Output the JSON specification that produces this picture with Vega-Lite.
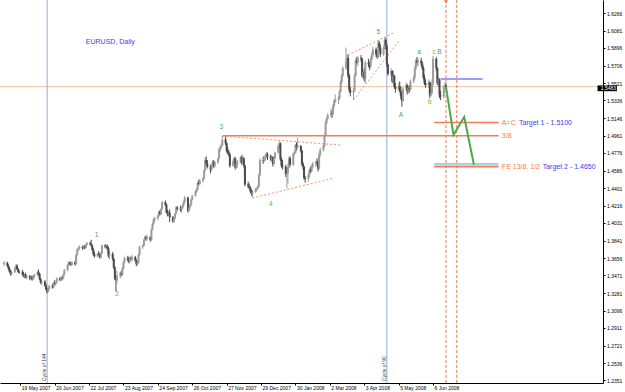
{
"$schema": "https://vega.github.io/schema/vega-lite/v6.json",
"width": 603, "height": 383,
"autosize": {"type": "none"},
"padding": {"left": 0, "top": 0, "right": 22, "bottom": 9},
"background": "white",
"config": {
"view": {"stroke": null},
"font": "Liberation Sans",
"axis": {"labelOverlap": false, "labelFlush": false, "labelBound": false, "grid": false, "title": null, "labelFontSize": 5, "labelFont": "Liberation Sans", "labelColor": "#000000", "tickSize": 2, "tickColor": "#000000", "domainColor": "#000000", "domainWidth": 1},
"axisX": {"labelOverlap": false, "labelAlign": "left", "labelBaseline": "top", "labelPadding": 0, "labelOffset": 1},
"axisY": {"labelOverlap": false, "labelPadding": 1.5}
},
"datasets": {
"candles": [
{"d":"2007-05-04","o":1.3590,"h":1.3625,"l":1.3570,"c":1.3604},
{"d":"2007-05-07","o":1.3604,"h":1.3618,"l":1.3560,"c":1.3575},
{"d":"2007-05-08","o":1.3575,"h":1.3590,"l":1.3530,"c":1.3545},
{"d":"2007-05-09","o":1.3545,"h":1.3560,"l":1.3500,"c":1.3510},
{"d":"2007-05-10","o":1.3510,"h":1.3530,"l":1.3470,"c":1.3490},
{"d":"2007-05-11","o":1.3490,"h":1.3520,"l":1.3470,"c":1.3505},
{"d":"2007-05-14","o":1.3505,"h":1.3560,"l":1.3495,"c":1.3545},
{"d":"2007-05-15","o":1.3545,"h":1.3590,"l":1.3530,"c":1.3575},
{"d":"2007-05-16","o":1.3575,"h":1.3590,"l":1.3530,"c":1.3540},
{"d":"2007-05-17","o":1.3540,"h":1.3550,"l":1.3500,"c":1.3510},
{"d":"2007-05-18","o":1.3510,"h":1.3525,"l":1.3490,"c":1.3500},
{"d":"2007-05-21","o":1.3500,"h":1.3530,"l":1.3470,"c":1.3485},
{"d":"2007-05-22","o":1.3485,"h":1.3510,"l":1.3450,"c":1.3460},
{"d":"2007-05-23","o":1.3460,"h":1.3490,"l":1.3440,"c":1.3475},
{"d":"2007-05-24","o":1.3475,"h":1.3500,"l":1.3440,"c":1.3450},
{"d":"2007-05-25","o":1.3450,"h":1.3480,"l":1.3430,"c":1.3465},
{"d":"2007-05-28","o":1.3465,"h":1.3475,"l":1.3420,"c":1.3435},
{"d":"2007-05-29","o":1.3435,"h":1.3470,"l":1.3425,"c":1.3455},
{"d":"2007-05-30","o":1.3455,"h":1.3470,"l":1.3415,"c":1.3430},
{"d":"2007-05-31","o":1.3430,"h":1.3460,"l":1.3420,"c":1.3450},
{"d":"2007-06-01","o":1.3450,"h":1.3490,"l":1.3440,"c":1.3480},
{"d":"2007-06-04","o":1.3480,"h":1.3520,"l":1.3465,"c":1.3505},
{"d":"2007-06-05","o":1.3505,"h":1.3535,"l":1.3470,"c":1.3490},
{"d":"2007-06-06","o":1.3490,"h":1.3500,"l":1.3420,"c":1.3430},
{"d":"2007-06-07","o":1.3430,"h":1.3445,"l":1.3380,"c":1.3395},
{"d":"2007-06-08","o":1.3395,"h":1.3420,"l":1.3365,"c":1.3405},
{"d":"2007-06-11","o":1.3405,"h":1.3420,"l":1.3350,"c":1.3360},
{"d":"2007-06-12","o":1.3360,"h":1.3380,"l":1.3310,"c":1.3320},
{"d":"2007-06-13","o":1.3320,"h":1.3335,"l":1.3280,"c":1.3300},
{"d":"2007-06-14","o":1.3300,"h":1.3340,"l":1.3290,"c":1.3325},
{"d":"2007-06-15","o":1.3325,"h":1.3370,"l":1.3315,"c":1.3360},
{"d":"2007-06-18","o":1.3360,"h":1.3380,"l":1.3330,"c":1.3345},
{"d":"2007-06-19","o":1.3345,"h":1.3400,"l":1.3335,"c":1.3390},
{"d":"2007-06-20","o":1.3390,"h":1.3420,"l":1.3370,"c":1.3380},
{"d":"2007-06-21","o":1.3380,"h":1.3405,"l":1.3360,"c":1.3395},
{"d":"2007-06-22","o":1.3395,"h":1.3450,"l":1.3385,"c":1.3440},
{"d":"2007-06-25","o":1.3440,"h":1.3455,"l":1.3410,"c":1.3420},
{"d":"2007-06-26","o":1.3420,"h":1.3460,"l":1.3410,"c":1.3450},
{"d":"2007-06-27","o":1.3450,"h":1.3460,"l":1.3420,"c":1.3440},
{"d":"2007-06-28","o":1.3440,"h":1.3490,"l":1.3430,"c":1.3480},
{"d":"2007-06-29","o":1.3480,"h":1.3540,"l":1.3470,"c":1.3525},
{"d":"2007-07-02","o":1.3525,"h":1.3590,"l":1.3515,"c":1.3580},
{"d":"2007-07-03","o":1.3580,"h":1.3620,"l":1.3565,"c":1.3605},
{"d":"2007-07-04","o":1.3605,"h":1.3620,"l":1.3580,"c":1.3595},
{"d":"2007-07-05","o":1.3595,"h":1.3610,"l":1.3575,"c":1.3585},
{"d":"2007-07-06","o":1.3585,"h":1.3625,"l":1.3570,"c":1.3610},
{"d":"2007-07-09","o":1.3610,"h":1.3625,"l":1.3575,"c":1.3590},
{"d":"2007-07-10","o":1.3590,"h":1.3700,"l":1.3585,"c":1.3690},
{"d":"2007-07-11","o":1.3690,"h":1.3760,"l":1.3680,"c":1.3750},
{"d":"2007-07-12","o":1.3750,"h":1.3775,"l":1.3730,"c":1.3760},
{"d":"2007-07-13","o":1.3760,"h":1.3790,"l":1.3745,"c":1.3775},
{"d":"2007-07-16","o":1.3775,"h":1.3790,"l":1.3745,"c":1.3760},
{"d":"2007-07-17","o":1.3760,"h":1.3790,"l":1.3750,"c":1.3780},
{"d":"2007-07-18","o":1.3780,"h":1.3795,"l":1.3750,"c":1.3765},
{"d":"2007-07-19","o":1.3765,"h":1.3810,"l":1.3755,"c":1.3800},
{"d":"2007-07-20","o":1.3800,"h":1.3830,"l":1.3790,"c":1.3815},
{"d":"2007-07-23","o":1.3815,"h":1.3830,"l":1.3790,"c":1.3805},
{"d":"2007-07-24","o":1.3805,"h":1.3850,"l":1.3780,"c":1.3790},
{"d":"2007-07-25","o":1.3790,"h":1.3800,"l":1.3730,"c":1.3745},
{"d":"2007-07-26","o":1.3745,"h":1.3760,"l":1.3680,"c":1.3695},
{"d":"2007-07-27","o":1.3695,"h":1.3720,"l":1.3660,"c":1.3675},
{"d":"2007-07-30","o":1.3675,"h":1.3710,"l":1.3665,"c":1.3700},
{"d":"2007-07-31","o":1.3700,"h":1.3730,"l":1.3680,"c":1.3690},
{"d":"2007-08-01","o":1.3690,"h":1.3710,"l":1.3650,"c":1.3665},
{"d":"2007-08-02","o":1.3665,"h":1.3720,"l":1.3655,"c":1.3710},
{"d":"2007-08-03","o":1.3710,"h":1.3800,"l":1.3700,"c":1.3790},
{"d":"2007-08-06","o":1.3790,"h":1.3805,"l":1.3760,"c":1.3775},
{"d":"2007-08-07","o":1.3775,"h":1.3800,"l":1.3750,"c":1.3785},
{"d":"2007-08-08","o":1.3785,"h":1.3800,"l":1.3745,"c":1.3760},
{"d":"2007-08-09","o":1.3760,"h":1.3775,"l":1.3660,"c":1.3680},
{"d":"2007-08-10","o":1.3680,"h":1.3730,"l":1.3640,"c":1.3700},
{"d":"2007-08-13","o":1.3700,"h":1.3720,"l":1.3630,"c":1.3645},
{"d":"2007-08-14","o":1.3645,"h":1.3660,"l":1.3540,"c":1.3555},
{"d":"2007-08-15","o":1.3555,"h":1.3570,"l":1.3420,"c":1.3440},
{"d":"2007-08-16","o":1.3440,"h":1.3470,"l":1.3300,"c":1.3420},
{"d":"2007-08-17","o":1.3420,"h":1.3520,"l":1.3380,"c":1.3470},
{"d":"2007-08-20","o":1.3470,"h":1.3510,"l":1.3440,"c":1.3495},
{"d":"2007-08-21","o":1.3495,"h":1.3520,"l":1.3460,"c":1.3480},
{"d":"2007-08-22","o":1.3480,"h":1.3560,"l":1.3470,"c":1.3545},
{"d":"2007-08-23","o":1.3545,"h":1.3620,"l":1.3530,"c":1.3610},
{"d":"2007-08-24","o":1.3610,"h":1.3670,"l":1.3600,"c":1.3655},
{"d":"2007-08-27","o":1.3655,"h":1.3680,"l":1.3620,"c":1.3640},
{"d":"2007-08-28","o":1.3640,"h":1.3670,"l":1.3600,"c":1.3620},
{"d":"2007-08-29","o":1.3620,"h":1.3665,"l":1.3600,"c":1.3655},
{"d":"2007-08-30","o":1.3655,"h":1.3675,"l":1.3630,"c":1.3645},
{"d":"2007-08-31","o":1.3645,"h":1.3690,"l":1.3620,"c":1.3665},
{"d":"2007-09-03","o":1.3665,"h":1.3680,"l":1.3620,"c":1.3630},
{"d":"2007-09-04","o":1.3630,"h":1.3645,"l":1.3570,"c":1.3590},
{"d":"2007-09-05","o":1.3590,"h":1.3620,"l":1.3575,"c":1.3605},
{"d":"2007-09-06","o":1.3605,"h":1.3700,"l":1.3595,"c":1.3690},
{"d":"2007-09-07","o":1.3690,"h":1.3790,"l":1.3680,"c":1.3775},
{"d":"2007-09-10","o":1.3775,"h":1.3800,"l":1.3755,"c":1.3790},
{"d":"2007-09-11","o":1.3790,"h":1.3860,"l":1.3780,"c":1.3850},
{"d":"2007-09-12","o":1.3850,"h":1.3890,"l":1.3840,"c":1.3880},
{"d":"2007-09-13","o":1.3880,"h":1.3900,"l":1.3840,"c":1.3860},
{"d":"2007-09-14","o":1.3860,"h":1.3895,"l":1.3845,"c":1.3880},
{"d":"2007-09-17","o":1.3880,"h":1.3890,"l":1.3830,"c":1.3850},
{"d":"2007-09-18","o":1.3850,"h":1.3970,"l":1.3840,"c":1.3960},
{"d":"2007-09-19","o":1.3960,"h":1.4030,"l":1.3950,"c":1.4020},
{"d":"2007-09-20","o":1.4020,"h":1.4080,"l":1.4005,"c":1.4065},
{"d":"2007-09-21","o":1.4065,"h":1.4095,"l":1.4040,"c":1.4080},
{"d":"2007-09-24","o":1.4080,"h":1.4120,"l":1.4060,"c":1.4105},
{"d":"2007-09-25","o":1.4105,"h":1.4160,"l":1.4095,"c":1.4150},
{"d":"2007-09-26","o":1.4150,"h":1.4170,"l":1.4110,"c":1.4125},
{"d":"2007-09-27","o":1.4125,"h":1.4190,"l":1.4115,"c":1.4180},
{"d":"2007-09-28","o":1.4180,"h":1.4265,"l":1.4170,"c":1.4250},
{"d":"2007-10-01","o":1.4250,"h":1.4270,"l":1.4210,"c":1.4225},
{"d":"2007-10-02","o":1.4225,"h":1.4235,"l":1.4130,"c":1.4145},
{"d":"2007-10-03","o":1.4145,"h":1.4170,"l":1.4100,"c":1.4125},
{"d":"2007-10-04","o":1.4125,"h":1.4160,"l":1.4105,"c":1.4140},
{"d":"2007-10-05","o":1.4140,"h":1.4175,"l":1.4040,"c":1.4090},
{"d":"2007-10-08","o":1.4090,"h":1.4105,"l":1.4030,"c":1.4050},
{"d":"2007-10-09","o":1.4050,"h":1.4090,"l":1.4035,"c":1.4080},
{"d":"2007-10-10","o":1.4080,"h":1.4140,"l":1.4070,"c":1.4130},
{"d":"2007-10-11","o":1.4130,"h":1.4210,"l":1.4120,"c":1.4195},
{"d":"2007-10-12","o":1.4195,"h":1.4210,"l":1.4160,"c":1.4180},
{"d":"2007-10-15","o":1.4180,"h":1.4215,"l":1.4150,"c":1.4170},
{"d":"2007-10-16","o":1.4170,"h":1.4200,"l":1.4140,"c":1.4190},
{"d":"2007-10-17","o":1.4190,"h":1.4230,"l":1.4175,"c":1.4220},
{"d":"2007-10-18","o":1.4220,"h":1.4270,"l":1.4205,"c":1.4255},
{"d":"2007-10-19","o":1.4255,"h":1.4320,"l":1.4240,"c":1.4300},
{"d":"2007-10-22","o":1.4300,"h":1.4310,"l":1.4140,"c":1.4160},
{"d":"2007-10-23","o":1.4160,"h":1.4210,"l":1.4150,"c":1.4195},
{"d":"2007-10-24","o":1.4195,"h":1.4240,"l":1.4180,"c":1.4225},
{"d":"2007-10-25","o":1.4225,"h":1.4290,"l":1.4215,"c":1.4280},
{"d":"2007-10-26","o":1.4280,"h":1.4330,"l":1.4270,"c":1.4320},
{"d":"2007-10-29","o":1.4320,"h":1.4380,"l":1.4310,"c":1.4365},
{"d":"2007-10-30","o":1.4365,"h":1.4400,"l":1.4350,"c":1.4385},
{"d":"2007-10-31","o":1.4385,"h":1.4470,"l":1.4375,"c":1.4460},
{"d":"2007-11-01","o":1.4460,"h":1.4490,"l":1.4430,"c":1.4445},
{"d":"2007-11-02","o":1.4445,"h":1.4500,"l":1.4435,"c":1.4480},
{"d":"2007-11-05","o":1.4480,"h":1.4520,"l":1.4460,"c":1.4505},
{"d":"2007-11-06","o":1.4505,"h":1.4600,"l":1.4495,"c":1.4590},
{"d":"2007-11-07","o":1.4590,"h":1.4730,"l":1.4580,"c":1.4700},
{"d":"2007-11-08","o":1.4700,"h":1.4740,"l":1.4640,"c":1.4665},
{"d":"2007-11-09","o":1.4665,"h":1.4700,"l":1.4610,"c":1.4630},
{"d":"2007-11-12","o":1.4630,"h":1.4650,"l":1.4560,"c":1.4600},
{"d":"2007-11-13","o":1.4600,"h":1.4660,"l":1.4585,"c":1.4640},
{"d":"2007-11-14","o":1.4640,"h":1.4700,"l":1.4610,"c":1.4680},
{"d":"2007-11-15","o":1.4680,"h":1.4700,"l":1.4620,"c":1.4640},
{"d":"2007-11-16","o":1.4640,"h":1.4690,"l":1.4620,"c":1.4675},
{"d":"2007-11-19","o":1.4675,"h":1.4730,"l":1.4660,"c":1.4720},
{"d":"2007-11-20","o":1.4720,"h":1.4830,"l":1.4710,"c":1.4815},
{"d":"2007-11-21","o":1.4815,"h":1.4860,"l":1.4790,"c":1.4840},
{"d":"2007-11-22","o":1.4840,"h":1.4880,"l":1.4820,"c":1.4860},
{"d":"2007-11-23","o":1.4860,"h":1.4960,"l":1.4850,"c":1.4920},
{"d":"2007-11-26","o":1.4920,"h":1.4950,"l":1.4860,"c":1.4880},
{"d":"2007-11-27","o":1.4880,"h":1.4890,"l":1.4780,"c":1.4800},
{"d":"2007-11-28","o":1.4800,"h":1.4840,"l":1.4760,"c":1.4780},
{"d":"2007-11-29","o":1.4780,"h":1.4810,"l":1.4740,"c":1.4760},
{"d":"2007-11-30","o":1.4760,"h":1.4780,"l":1.4620,"c":1.4640},
{"d":"2007-12-03","o":1.4640,"h":1.4710,"l":1.4630,"c":1.4690},
{"d":"2007-12-04","o":1.4690,"h":1.4740,"l":1.4670,"c":1.4720},
{"d":"2007-12-05","o":1.4720,"h":1.4730,"l":1.4600,"c":1.4620},
{"d":"2007-12-06","o":1.4620,"h":1.4680,"l":1.4610,"c":1.4660},
{"d":"2007-12-07","o":1.4660,"h":1.4700,"l":1.4620,"c":1.4680},
{"d":"2007-12-10","o":1.4680,"h":1.4740,"l":1.4670,"c":1.4730},
{"d":"2007-12-11","o":1.4730,"h":1.4750,"l":1.4650,"c":1.4670},
{"d":"2007-12-12","o":1.4670,"h":1.4760,"l":1.4660,"c":1.4720},
{"d":"2007-12-13","o":1.4720,"h":1.4730,"l":1.4620,"c":1.4640},
{"d":"2007-12-14","o":1.4640,"h":1.4650,"l":1.4420,"c":1.4440},
{"d":"2007-12-17","o":1.4440,"h":1.4470,"l":1.4400,"c":1.4420},
{"d":"2007-12-18","o":1.4420,"h":1.4450,"l":1.4390,"c":1.4410},
{"d":"2007-12-19","o":1.4410,"h":1.4420,"l":1.4350,"c":1.4370},
{"d":"2007-12-20","o":1.4370,"h":1.4390,"l":1.4320,"c":1.4345},
{"d":"2007-12-21","o":1.4345,"h":1.4380,"l":1.4300,"c":1.4360},
{"d":"2007-12-24","o":1.4360,"h":1.4400,"l":1.4350,"c":1.4390},
{"d":"2007-12-25","o":1.4390,"h":1.4410,"l":1.4380,"c":1.4400},
{"d":"2007-12-26","o":1.4400,"h":1.4430,"l":1.4380,"c":1.4420},
{"d":"2007-12-27","o":1.4420,"h":1.4560,"l":1.4410,"c":1.4540},
{"d":"2007-12-28","o":1.4540,"h":1.4720,"l":1.4530,"c":1.4700},
{"d":"2007-12-31","o":1.4700,"h":1.4740,"l":1.4660,"c":1.4690},
{"d":"2008-01-01","o":1.4690,"h":1.4720,"l":1.4680,"c":1.4710},
{"d":"2008-01-02","o":1.4710,"h":1.4770,"l":1.4700,"c":1.4750},
{"d":"2008-01-03","o":1.4750,"h":1.4790,"l":1.4720,"c":1.4760},
{"d":"2008-01-04","o":1.4760,"h":1.4780,"l":1.4700,"c":1.4740},
{"d":"2008-01-07","o":1.4740,"h":1.4760,"l":1.4690,"c":1.4710},
{"d":"2008-01-08","o":1.4710,"h":1.4750,"l":1.4680,"c":1.4730},
{"d":"2008-01-09","o":1.4730,"h":1.4740,"l":1.4630,"c":1.4660},
{"d":"2008-01-10","o":1.4660,"h":1.4740,"l":1.4650,"c":1.4720},
{"d":"2008-01-11","o":1.4720,"h":1.4790,"l":1.4710,"c":1.4780},
{"d":"2008-01-14","o":1.4780,"h":1.4860,"l":1.4770,"c":1.4850},
{"d":"2008-01-15","o":1.4850,"h":1.4900,"l":1.4820,"c":1.4880},
{"d":"2008-01-16","o":1.4880,"h":1.4890,"l":1.4690,"c":1.4710},
{"d":"2008-01-17","o":1.4710,"h":1.4730,"l":1.4620,"c":1.4640},
{"d":"2008-01-18","o":1.4640,"h":1.4700,"l":1.4600,"c":1.4630},
{"d":"2008-01-21","o":1.4630,"h":1.4650,"l":1.4520,"c":1.4550},
{"d":"2008-01-22","o":1.4550,"h":1.4610,"l":1.4400,"c":1.4560},
{"d":"2008-01-23","o":1.4560,"h":1.4660,"l":1.4450,"c":1.4620},
{"d":"2008-01-24","o":1.4620,"h":1.4740,"l":1.4610,"c":1.4720},
{"d":"2008-01-25","o":1.4720,"h":1.4740,"l":1.4630,"c":1.4650},
{"d":"2008-01-28","o":1.4650,"h":1.4780,"l":1.4640,"c":1.4770},
{"d":"2008-01-29","o":1.4770,"h":1.4800,"l":1.4750,"c":1.4780},
{"d":"2008-01-30","o":1.4780,"h":1.4870,"l":1.4770,"c":1.4860},
{"d":"2008-01-31","o":1.4860,"h":1.4890,"l":1.4800,"c":1.4840},
{"d":"2008-02-01","o":1.4840,"h":1.4940,"l":1.4820,"c":1.4850},
{"d":"2008-02-04","o":1.4850,"h":1.4860,"l":1.4780,"c":1.4800},
{"d":"2008-02-05","o":1.4800,"h":1.4810,"l":1.4640,"c":1.4660},
{"d":"2008-02-06","o":1.4660,"h":1.4680,"l":1.4600,"c":1.4630},
{"d":"2008-02-07","o":1.4630,"h":1.4640,"l":1.4490,"c":1.4510},
{"d":"2008-02-08","o":1.4510,"h":1.4530,"l":1.4460,"c":1.4500},
{"d":"2008-02-11","o":1.4500,"h":1.4560,"l":1.4470,"c":1.4540},
{"d":"2008-02-12","o":1.4540,"h":1.4610,"l":1.4520,"c":1.4595},
{"d":"2008-02-13","o":1.4595,"h":1.4630,"l":1.4560,"c":1.4580},
{"d":"2008-02-14","o":1.4580,"h":1.4650,"l":1.4570,"c":1.4630},
{"d":"2008-02-15","o":1.4630,"h":1.4680,"l":1.4610,"c":1.4660},
{"d":"2008-02-18","o":1.4660,"h":1.4690,"l":1.4630,"c":1.4680},
{"d":"2008-02-19","o":1.4680,"h":1.4720,"l":1.4640,"c":1.4670},
{"d":"2008-02-20","o":1.4670,"h":1.4700,"l":1.4580,"c":1.4610},
{"d":"2008-02-21","o":1.4610,"h":1.4780,"l":1.4600,"c":1.4760},
{"d":"2008-02-22","o":1.4760,"h":1.4830,"l":1.4740,"c":1.4810},
{"d":"2008-02-25","o":1.4810,"h":1.4870,"l":1.4790,"c":1.4850},
{"d":"2008-02-26","o":1.4850,"h":1.4980,"l":1.4840,"c":1.4960},
{"d":"2008-02-27","o":1.4960,"h":1.5120,"l":1.4950,"c":1.5100},
{"d":"2008-02-28","o":1.5100,"h":1.5160,"l":1.5080,"c":1.5140},
{"d":"2008-02-29","o":1.5140,"h":1.5200,"l":1.5130,"c":1.5180},
{"d":"2008-03-03","o":1.5180,"h":1.5250,"l":1.5160,"c":1.5200},
{"d":"2008-03-04","o":1.5200,"h":1.5230,"l":1.5150,"c":1.5190},
{"d":"2008-03-05","o":1.5190,"h":1.5300,"l":1.5180,"c":1.5280},
{"d":"2008-03-06","o":1.5280,"h":1.5350,"l":1.5260,"c":1.5330},
{"d":"2008-03-07","o":1.5330,"h":1.5400,"l":1.5310,"c":1.5350},
{"d":"2008-03-10","o":1.5350,"h":1.5380,"l":1.5300,"c":1.5360},
{"d":"2008-03-11","o":1.5360,"h":1.5450,"l":1.5340,"c":1.5430},
{"d":"2008-03-12","o":1.5430,"h":1.5550,"l":1.5420,"c":1.5530},
{"d":"2008-03-13","o":1.5530,"h":1.5620,"l":1.5510,"c":1.5600},
{"d":"2008-03-14","o":1.5600,"h":1.5700,"l":1.5580,"c":1.5680},
{"d":"2008-03-17","o":1.5680,"h":1.5900,"l":1.5660,"c":1.5760},
{"d":"2008-03-18","o":1.5760,"h":1.5830,"l":1.5700,"c":1.5790},
{"d":"2008-03-19","o":1.5790,"h":1.5820,"l":1.5570,"c":1.5600},
{"d":"2008-03-20","o":1.5600,"h":1.5620,"l":1.5420,"c":1.5450},
{"d":"2008-03-21","o":1.5450,"h":1.5480,"l":1.5380,"c":1.5420},
{"d":"2008-03-24","o":1.5420,"h":1.5470,"l":1.5340,"c":1.5440},
{"d":"2008-03-25","o":1.5440,"h":1.5620,"l":1.5430,"c":1.5600},
{"d":"2008-03-26","o":1.5600,"h":1.5780,"l":1.5590,"c":1.5760},
{"d":"2008-03-27","o":1.5760,"h":1.5800,"l":1.5720,"c":1.5740},
{"d":"2008-03-28","o":1.5740,"h":1.5810,"l":1.5700,"c":1.5790},
{"d":"2008-03-31","o":1.5790,"h":1.5820,"l":1.5750,"c":1.5780},
{"d":"2008-04-01","o":1.5780,"h":1.5790,"l":1.5580,"c":1.5600},
{"d":"2008-04-02","o":1.5600,"h":1.5660,"l":1.5560,"c":1.5640},
{"d":"2008-04-03","o":1.5640,"h":1.5680,"l":1.5540,"c":1.5570},
{"d":"2008-04-04","o":1.5570,"h":1.5760,"l":1.5520,"c":1.5740},
{"d":"2008-04-07","o":1.5740,"h":1.5780,"l":1.5690,"c":1.5720},
{"d":"2008-04-08","o":1.5720,"h":1.5750,"l":1.5660,"c":1.5700},
{"d":"2008-04-09","o":1.5700,"h":1.5800,"l":1.5680,"c":1.5780},
{"d":"2008-04-10","o":1.5780,"h":1.5850,"l":1.5750,"c":1.5820},
{"d":"2008-04-11","o":1.5820,"h":1.5910,"l":1.5800,"c":1.5880},
{"d":"2008-04-14","o":1.5880,"h":1.5900,"l":1.5800,"c":1.5830},
{"d":"2008-04-15","o":1.5830,"h":1.5870,"l":1.5780,"c":1.5800},
{"d":"2008-04-16","o":1.5800,"h":1.5980,"l":1.5790,"c":1.5950},
{"d":"2008-04-17","o":1.5950,"h":1.5970,"l":1.5860,"c":1.5900},
{"d":"2008-04-18","o":1.5900,"h":1.5930,"l":1.5800,"c":1.5830},
{"d":"2008-04-21","o":1.5830,"h":1.5920,"l":1.5810,"c":1.5900},
{"d":"2008-04-22","o":1.5900,"h":1.6010,"l":1.5880,"c":1.5980},
{"d":"2008-04-23","o":1.5980,"h":1.6000,"l":1.5880,"c":1.5920},
{"d":"2008-04-24","o":1.5920,"h":1.5940,"l":1.5690,"c":1.5720},
{"d":"2008-04-25","o":1.5720,"h":1.5730,"l":1.5600,"c":1.5620},
{"d":"2008-04-28","o":1.5620,"h":1.5680,"l":1.5590,"c":1.5650},
{"d":"2008-04-29","o":1.5650,"h":1.5660,"l":1.5520,"c":1.5540},
{"d":"2008-04-30","o":1.5540,"h":1.5650,"l":1.5530,"c":1.5600},
{"d":"2008-05-01","o":1.5600,"h":1.5610,"l":1.5460,"c":1.5480},
{"d":"2008-05-02","o":1.5480,"h":1.5520,"l":1.5420,"c":1.5460},
{"d":"2008-05-05","o":1.5460,"h":1.5520,"l":1.5440,"c":1.5490},
{"d":"2008-05-06","o":1.5490,"h":1.5540,"l":1.5420,"c":1.5440},
{"d":"2008-05-07","o":1.5440,"h":1.5480,"l":1.5350,"c":1.5380},
{"d":"2008-05-08","o":1.5380,"h":1.5420,"l":1.5270,"c":1.5330},
{"d":"2008-05-09","o":1.5330,"h":1.5480,"l":1.5320,"c":1.5460},
{"d":"2008-05-12","o":1.5460,"h":1.5530,"l":1.5440,"c":1.5500},
{"d":"2008-05-13","o":1.5500,"h":1.5510,"l":1.5400,"c":1.5430},
{"d":"2008-05-14","o":1.5430,"h":1.5490,"l":1.5410,"c":1.5470},
{"d":"2008-05-15","o":1.5470,"h":1.5500,"l":1.5420,"c":1.5450},
{"d":"2008-05-16","o":1.5450,"h":1.5560,"l":1.5440,"c":1.5540},
{"d":"2008-05-19","o":1.5540,"h":1.5600,"l":1.5520,"c":1.5580},
{"d":"2008-05-20","o":1.5580,"h":1.5700,"l":1.5560,"c":1.5680},
{"d":"2008-05-21","o":1.5680,"h":1.5780,"l":1.5660,"c":1.5760},
{"d":"2008-05-22","o":1.5760,"h":1.5800,"l":1.5710,"c":1.5740},
{"d":"2008-05-23","o":1.5740,"h":1.5790,"l":1.5700,"c":1.5760},
{"d":"2008-05-26","o":1.5760,"h":1.5790,"l":1.5700,"c":1.5730},
{"d":"2008-05-27","o":1.5730,"h":1.5750,"l":1.5660,"c":1.5680},
{"d":"2008-05-28","o":1.5680,"h":1.5700,"l":1.5560,"c":1.5580},
{"d":"2008-05-29","o":1.5580,"h":1.5610,"l":1.5500,"c":1.5520},
{"d":"2008-05-30","o":1.5520,"h":1.5560,"l":1.5470,"c":1.5500},
{"d":"2008-06-02","o":1.5500,"h":1.5560,"l":1.5470,"c":1.5530},
{"d":"2008-06-03","o":1.5530,"h":1.5540,"l":1.5360,"c":1.5390},
{"d":"2008-06-04","o":1.5390,"h":1.5440,"l":1.5380,"c":1.5420},
{"d":"2008-06-05","o":1.5420,"h":1.5560,"l":1.5400,"c":1.5520},
{"d":"2008-06-06","o":1.5520,"h":1.5810,"l":1.5500,"c":1.5780},
{"d":"2008-06-09","o":1.5780,"h":1.5800,"l":1.5650,"c":1.5680},
{"d":"2008-06-10","o":1.5680,"h":1.5690,"l":1.5500,"c":1.5520},
{"d":"2008-06-11","o":1.5520,"h":1.5580,"l":1.5480,"c":1.5560},
{"d":"2008-06-12","o":1.5560,"h":1.5570,"l":1.5360,"c":1.5390},
{"d":"2008-06-13","o":1.5390,"h":1.5440,"l":1.5340,"c":1.5380},
{"d":"2008-06-16","o":1.5380,"h":1.5500,"l":1.5360,"c":1.5480},
{"d":"2008-06-17","o":1.5480,"h":1.5530,"l":1.5440,"c":1.5500},
{"d":"2008-06-18","o":1.5500,"h":1.5520,"l":1.5460,"c":1.5483}
]
},
"layer": [
{
"data": {"values": [{"p": 1.5483}]},
"mark": {"type": "rule", "color": "#e8c6a4", "strokeWidth": 1},
"encoding": {
"y": {"field": "p", "type": "quantitative", "scale": {"domain": [1.2324, 1.6407], "zero": false, "nice": false},
"axis": {"orient": "right", "values": [1.6266,1.6081,1.5896,1.5706,1.5521,1.5336,1.5146,1.4961,1.4776,1.4586,1.4401,1.4216,1.4031,1.3841,1.3656,1.3471,1.3281,1.3096,1.2911,1.2721,1.2536,1.2351], "tickCount": 40, "format": ".4f", "labelOverlap": false}}
}
},
{
"data": {"values": [{"d": "2007-06-13", "name": "Cycle of 144"}, {"d": "2008-04-24", "name": "Cycle of 90"}]},
"mark": {"type": "rule", "color": "#93acd0", "strokeWidth": 1},
"encoding": {
"x": {"field": "d", "type": "temporal", "scale": {"type": "utc", "nice": false, "domain": [{"year": 2007, "month": 5, "date": 4, "hours": 19, "minutes": 40, "utc": true}, {"year": 2008, "month": 11, "date": 6, "hours": 10, "utc": true}]},
"axis": {"orient": "bottom", "values": [{"year":2007,"month":5,"date":19,"utc":true},{"year":2007,"month":6,"date":20,"utc":true},{"year":2007,"month":7,"date":22,"utc":true},{"year":2007,"month":8,"date":23,"utc":true},{"year":2007,"month":9,"date":24,"utc":true},{"year":2007,"month":10,"date":26,"utc":true},{"year":2007,"month":11,"date":27,"utc":true},{"year":2007,"month":12,"date":29,"utc":true},{"year":2008,"month":1,"date":30,"utc":true},{"year":2008,"month":3,"date":2,"utc":true},{"year":2008,"month":4,"date":3,"utc":true},{"year":2008,"month":5,"date":5,"utc":true},{"year":2008,"month":6,"date":6,"utc":true}],
"tickCount": 40, "format": "%-d %b %Y", "labelOverlap": false}}
}
},
{
"data": {"values": [{"d": "2007-06-13", "p": 1.2343, "name": "Cycle of 144"}, {"d": "2008-04-24", "p": 1.2343, "name": "Cycle of 90"}]},
"mark": {"type": "text", "angle": 270, "align": "left", "baseline": "bottom", "fontSize": 5, "color": "#444444", "font": "Liberation Sans"},
"encoding": {
"x": {"field": "d", "type": "temporal", "scale": {"type": "utc", "nice": false, "domain": [{"year": 2007, "month": 5, "date": 4, "hours": 19, "minutes": 40, "utc": true}, {"year": 2008, "month": 11, "date": 6, "hours": 10, "utc": true}]}},
"y": {"field": "p", "type": "quantitative", "scale": {"domain": [1.2324, 1.6407], "zero": false, "nice": false}},
"text": {"field": "name"}
}
},
{
"data": {"values": [{"d": "2008-06-18"}, {"d": "2008-06-28"}]},
"mark": {"type": "rule", "color": "#f27a4e", "strokeWidth": 1, "strokeDash": [3, 2]},
"encoding": {
"x": {"field": "d", "type": "temporal", "scale": {"type": "utc", "nice": false, "domain": [{"year": 2007, "month": 5, "date": 4, "hours": 19, "minutes": 40, "utc": true}, {"year": 2008, "month": 11, "date": 6, "hours": 10, "utc": true}]}}
}
},
{
"data": {"values": [{"d": "2008-06-07", "d2": "2008-08-06", "p": 1.4640, "p2": 1.4668}]},
"mark": {"type": "rect", "color": "#a7d3e8"},
"encoding": {
"x": {"field": "d", "type": "temporal", "scale": {"type": "utc", "nice": false, "domain": [{"year": 2007, "month": 5, "date": 4, "hours": 19, "minutes": 40, "utc": true}, {"year": 2008, "month": 11, "date": 6, "hours": 10, "utc": true}]}},
"x2": {"field": "d2"},
"y": {"field": "p", "type": "quantitative", "scale": {"domain": [1.2324, 1.6407], "zero": false, "nice": false}},
"y2": {"field": "p2"}
}
},
{
"data": {"values": [{"d": "2007-11-23", "d2": "2008-08-06", "p": 1.4960}, {"d": "2008-06-07", "d2": "2008-08-06", "p": 1.5100}, {"d": "2008-06-07", "d2": "2008-08-06", "p": 1.4630}]},
"mark": {"type": "rule", "color": "#f47c52", "strokeWidth": 1.5},
"encoding": {
"x": {"field": "d", "type": "temporal", "scale": {"type": "utc", "nice": false, "domain": [{"year": 2007, "month": 5, "date": 4, "hours": 19, "minutes": 40, "utc": true}, {"year": 2008, "month": 11, "date": 6, "hours": 10, "utc": true}]}},
"x2": {"field": "d2"},
"y": {"field": "p", "type": "quantitative", "scale": {"domain": [1.2324, 1.6407], "zero": false, "nice": false}}
}
},
{
"data": {"values": [{"d": "2008-06-13", "d2": "2008-07-22", "p": 1.5565}]},
"mark": {"type": "rule", "color": "#9d9dfb", "strokeWidth": 2},
"encoding": {
"x": {"field": "d", "type": "temporal", "scale": {"type": "utc", "nice": false, "domain": [{"year": 2007, "month": 5, "date": 4, "hours": 19, "minutes": 40, "utc": true}, {"year": 2008, "month": 11, "date": 6, "hours": 10, "utc": true}]}},
"x2": {"field": "d2"},
"y": {"field": "p", "type": "quantitative", "scale": {"domain": [1.2324, 1.6407], "zero": false, "nice": false}}
}
},
{
"data": {"values": [
{"d": "2007-11-23", "p": 1.4956, "d2": "2008-03-12", "p2": 1.4861},
{"d": "2007-12-21", "p": 1.4296, "d2": "2008-03-06", "p2": 1.4509},
{"d": "2008-03-19", "p": 1.5820, "d2": "2008-04-30", "p2": 1.6055},
{"d": "2008-03-24", "p": 1.5341, "d2": "2008-05-06", "p2": 1.5980}]},
"mark": {"type": "rule", "color": "#f5946c", "strokeWidth": 1, "strokeDash": [2, 2]},
"encoding": {
"x": {"field": "d", "type": "temporal", "scale": {"type": "utc", "nice": false, "domain": [{"year": 2007, "month": 5, "date": 4, "hours": 19, "minutes": 40, "utc": true}, {"year": 2008, "month": 11, "date": 6, "hours": 10, "utc": true}]}},
"x2": {"field": "d2"},
"y": {"field": "p", "type": "quantitative", "scale": {"domain": [1.2324, 1.6407], "zero": false, "nice": false}},
"y2": {"field": "p2"}
}
},
{
"data": {"name": "candles"},
"mark": {"type": "rule", "strokeWidth": 1},
"encoding": {
"x": {"field": "d", "type": "temporal", "scale": {"type": "utc", "nice": false, "domain": [{"year": 2007, "month": 5, "date": 4, "hours": 19, "minutes": 40, "utc": true}, {"year": 2008, "month": 11, "date": 6, "hours": 10, "utc": true}]}},
"y": {"field": "l", "type": "quantitative", "scale": {"domain": [1.2324, 1.6407], "zero": false, "nice": false}},
"y2": {"field": "h"},
"color": {"condition": {"test": "datum.c < datum.o", "value": "#4a4a4a"}, "value": "#9c9c9c"}
}
},
{
"data": {"name": "candles"},
"mark": {"type": "bar", "size": 2},
"encoding": {
"x": {"field": "d", "type": "temporal", "scale": {"type": "utc", "nice": false, "domain": [{"year": 2007, "month": 5, "date": 4, "hours": 19, "minutes": 40, "utc": true}, {"year": 2008, "month": 11, "date": 6, "hours": 10, "utc": true}]}},
"y": {"field": "o", "type": "quantitative", "scale": {"domain": [1.2324, 1.6407], "zero": false, "nice": false}},
"y2": {"field": "c"},
"color": {"condition": {"test": "datum.c < datum.o", "value": "#4a4a4a"}, "value": "#9c9c9c"}
}
},
{
"data": {"values": [{"d": "2008-06-18", "p": 1.5483}, {"d": "2008-06-25", "p": 1.4968}, {"d": "2008-07-05", "p": 1.5159}, {"d": "2008-07-14", "p": 1.4650}]},
"mark": {"type": "line", "color": "#4caa4c", "strokeWidth": 2},
"encoding": {
"x": {"field": "d", "type": "temporal", "scale": {"type": "utc", "nice": false, "domain": [{"year": 2007, "month": 5, "date": 4, "hours": 19, "minutes": 40, "utc": true}, {"year": 2008, "month": 11, "date": 6, "hours": 10, "utc": true}]}},
"y": {"field": "p", "type": "quantitative", "scale": {"domain": [1.2324, 1.6407], "zero": false, "nice": false}}
}
},
{
"data": {"values": [{"d": "2007-07-29", "p": 1.3902, "t": "1"}, {"d": "2007-11-22", "p": 1.5053, "t": "3"}, {"d": "2008-04-16", "p": 1.6066, "t": "5"}, {"d": "2008-05-07", "p": 1.5181, "t": "A"}, {"d": "2008-05-24", "p": 1.5852, "t": "a"}, {"d": "2008-06-12", "p": 1.5852, "t": "B"}]},
"mark": {"type": "text", "fontSize": 6.5, "color": "#4aa868", "align": "center", "baseline": "middle"},
"encoding": {
"x": {"field": "d", "type": "temporal", "scale": {"type": "utc", "nice": false, "domain": [{"year": 2007, "month": 5, "date": 4, "hours": 19, "minutes": 40, "utc": true}, {"year": 2008, "month": 11, "date": 6, "hours": 10, "utc": true}]}},
"y": {"field": "p", "type": "quantitative", "scale": {"domain": [1.2324, 1.6407], "zero": false, "nice": false}},
"text": {"field": "t"}
}
},
{
"data": {"values": [{"d": "2007-08-17", "p": 1.3273, "t": "2"}, {"d": "2008-01-07", "p": 1.4232, "t": "4"}, {"d": "2008-06-03", "p": 1.5319, "t": "b"}, {"d": "2008-06-07", "p": 1.5852, "t": "c"}]},
"mark": {"type": "text", "fontSize": 6.5, "color": "#88a436", "align": "center", "baseline": "middle"},
"encoding": {
"x": {"field": "d", "type": "temporal", "scale": {"type": "utc", "nice": false, "domain": [{"year": 2007, "month": 5, "date": 4, "hours": 19, "minutes": 40, "utc": true}, {"year": 2008, "month": 11, "date": 6, "hours": 10, "utc": true}]}},
"y": {"field": "p", "type": "quantitative", "scale": {"domain": [1.2324, 1.6407], "zero": false, "nice": false}},
"text": {"field": "t"}
}
},
{
"data": {"values": [{"d": "2008-08-09", "p": 1.5094, "t": "A=C"}, {"d": "2008-08-09", "p": 1.4957, "t": "3/8"}, {"d": "2008-08-09", "p": 1.4630, "t": "FE 13/8, 1/2"}]},
"mark": {"type": "text", "fontSize": 7, "color": "#f47c52", "align": "left", "baseline": "middle"},
"encoding": {
"x": {"field": "d", "type": "temporal", "scale": {"type": "utc", "nice": false, "domain": [{"year": 2007, "month": 5, "date": 4, "hours": 19, "minutes": 40, "utc": true}, {"year": 2008, "month": 11, "date": 6, "hours": 10, "utc": true}]}},
"y": {"field": "p", "type": "quantitative", "scale": {"domain": [1.2324, 1.6407], "zero": false, "nice": false}},
"text": {"field": "t"}
}
},
{
"data": {"values": [{"d": "2008-08-25", "p": 1.5094, "t": "Target 1 - 1.5100"}, {"d": "2008-09-16", "p": 1.4630, "t": "Target 2 - 1.4650"}, {"d": "2007-07-19", "p": 1.5962, "t": "EURUSD, Daily"}]},
"mark": {"type": "text", "fontSize": 7, "color": "#3c3cf2", "align": "left", "baseline": "middle"},
"encoding": {
"x": {"field": "d", "type": "temporal", "scale": {"type": "utc", "nice": false, "domain": [{"year": 2007, "month": 5, "date": 4, "hours": 19, "minutes": 40, "utc": true}, {"year": 2008, "month": 11, "date": 6, "hours": 10, "utc": true}]}},
"y": {"field": "p", "type": "quantitative", "scale": {"domain": [1.2324, 1.6407], "zero": false, "nice": false}},
"text": {"field": "t"}
}
},
{
"data": {"values": [{"d": "2008-06-18", "p": 1.6385}]},
"mark": {"type": "point", "shape": "triangle-down", "size": 16, "filled": true, "color": "#f27a4e", "opacity": 1},
"encoding": {
"x": {"field": "d", "type": "temporal", "scale": {"type": "utc", "nice": false, "domain": [{"year": 2007, "month": 5, "date": 4, "hours": 19, "minutes": 40, "utc": true}, {"year": 2008, "month": 11, "date": 6, "hours": 10, "utc": true}]}},
"y": {"field": "p", "type": "quantitative", "scale": {"domain": [1.2324, 1.6407], "zero": false, "nice": false}}
}
},
{
"data": {"values": [{"d": "2008-11-06", "d2": "2008-11-24", "p": 1.5435, "p2": 1.5496}]},
"mark": {"type": "rect", "color": "#000000"},
"encoding": {
"x": {"field": "d", "type": "temporal", "scale": {"type": "utc", "nice": false, "domain": [{"year": 2007, "month": 5, "date": 4, "hours": 19, "minutes": 40, "utc": true}, {"year": 2008, "month": 11, "date": 6, "hours": 10, "utc": true}]}},
"x2": {"field": "d2"},
"y": {"field": "p", "type": "quantitative", "scale": {"domain": [1.2324, 1.6407], "zero": false, "nice": false}},
"y2": {"field": "p2"}
}
},
{
"data": {"values": [{"d": "2008-11-09", "p": 1.5465, "t": "1.5483"}]},
"mark": {"type": "text", "fontSize": 5, "color": "#ffffff", "align": "left", "baseline": "middle"},
"encoding": {
"x": {"field": "d", "type": "temporal", "scale": {"type": "utc", "nice": false, "domain": [{"year": 2007, "month": 5, "date": 4, "hours": 19, "minutes": 40, "utc": true}, {"year": 2008, "month": 11, "date": 6, "hours": 10, "utc": true}]}},
"y": {"field": "p", "type": "quantitative", "scale": {"domain": [1.2324, 1.6407], "zero": false, "nice": false}},
"text": {"field": "t"}
}
}
]
}
